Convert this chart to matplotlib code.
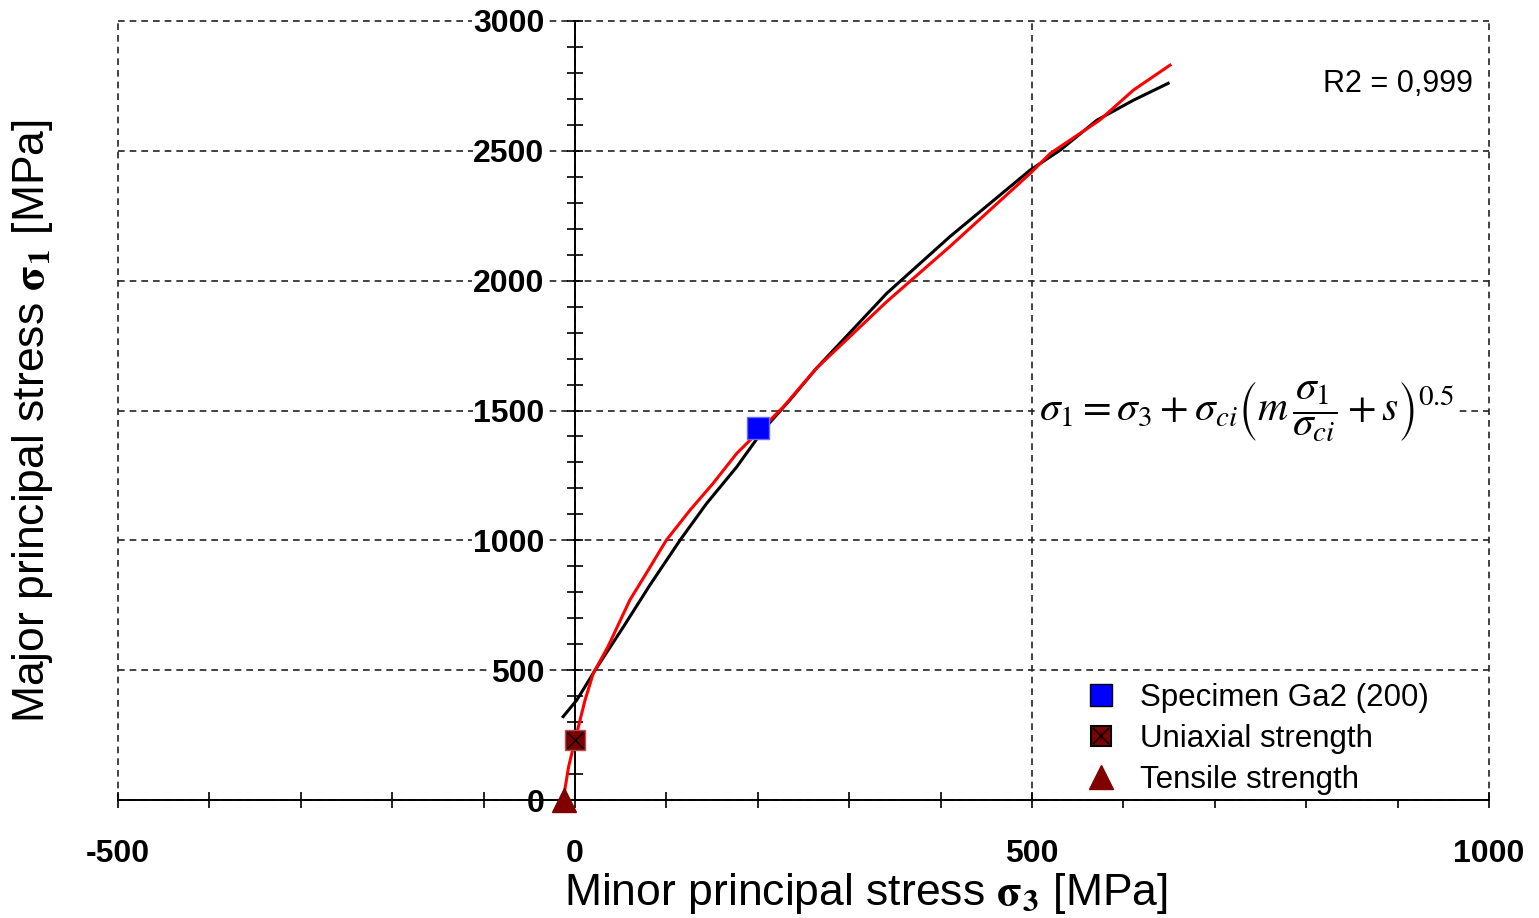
import matplotlib
matplotlib.use('Agg')
from matplotlib import pyplot as plt
from matplotlib.lines import Line2D

plt.rcParams['font.family'] = ['Liberation Sans', 'DejaVu Sans']
plt.rcParams['mathtext.fontset'] = 'stix'
plt.rcParams['axes.unicode_minus'] = False

# Hoek-Brown criterion (red)
sig3_hb = [-13, -7, 0, 11, 20, 36, 60, 78, 100, 126, 151, 177, 199, 228, 264, 341, 410, 498, 520, 574, 611, 651]
sig1_hb = [0, 128, 230, 385, 488, 590, 770, 873, 1001, 1117, 1219, 1335, 1412, 1514, 1662, 1919, 2131, 2413, 2490,
           2618, 2734, 2830]

# fitted curve (black)
sig3_fit = [-13, 2, 22, 53, 82, 115, 144, 177, 206, 235, 264, 341, 410, 498, 531, 571, 611, 649]
sig1_fit = [321, 385, 500, 667, 828, 1001, 1142, 1283, 1425, 1540, 1662, 1951, 2169, 2426, 2503, 2618, 2695, 2760]

# single points
specimen = (200, 1432)
uniaxial = (0, 230)
tensile = (-12, 0)

x_major = [-500, 0, 500, 1000]
y_major = [0, 500, 1000, 1500, 2000, 2500, 3000]

W, H = 1539, 918
fig = plt.figure(figsize=(W / 100, H / 100), dpi=100)
ax = fig.add_axes([118 / W, 1 - 800 / H, (1489 - 118) / W, (800 - 21) / H])
ax.set_xlim(-500, 1000)
ax.set_ylim(0, 3000)

ax.spines['left'].set_position(('data', 0))
ax.spines['top'].set_visible(False)
ax.spines['right'].set_visible(False)
for s in ('left', 'bottom'):
    ax.spines[s].set_linewidth(1.4)
    ax.spines[s].set_zorder(3)

ax.set_xticks(x_major)
ax.set_yticks(y_major)
ax.set_xticks(range(-500, 1001, 100), minor=True)
ax.set_yticks(range(0, 3001, 100), minor=True)
ax.tick_params(which='both', direction='inout', length=12, width=1.2, color='black')
ax.tick_params(axis='y', pad=16, labelsize=23)
ax.tick_params(axis='x', pad=22, labelsize=23)
for lbl in ax.get_xticklabels() + ax.get_yticklabels():
    lbl.set_fontweight('bold')
for lbl in ax.get_yticklabels():
    lbl.set_bbox(dict(facecolor='white', edgecolor='none', pad=0.5))

ax.grid(True, which='major', linestyle=(0, (4, 3)), color='#222222', linewidth=1.2)
for gl in ax.get_xgridlines() + ax.get_ygridlines():
    gl.set_clip_on(False)
ax.set_axisbelow(True)

ax.plot(sig3_fit, sig1_fit, color='black', lw=2.2, zorder=4)
ax.plot(sig3_hb, sig1_hb, color='red', lw=2.2, zorder=5)

ax.plot(*specimen, marker='s', ms=16, color='#0000ff', mec='#6a6aff', mew=1, ls='none', zorder=6)
ax.plot(*uniaxial, marker='s', ms=15, color='#7a0000', mec='#b05050', mew=1, ls='none', zorder=6)
ax.plot(*uniaxial, marker='x', ms=11, color='black', mew=1, ls='none', zorder=7)
ax.plot(*tensile, marker='^', ms=17, color='#800000', ls='none', zorder=6, clip_on=False)

leg_spec = Line2D([], [], marker='s', ms=16, color='#0000ff', mec='black', mew=1, ls='none')
leg_uni = Line2D([], [], marker='s', ms=15, color='#800000', mec='black', mew=1.5, ls='none')
leg_unix = Line2D([], [], marker='x', ms=11, color='black', mew=1.2, ls='none')
leg_ten = Line2D([], [], marker='^', ms=17, color='#800000', ls='none')
leg = ax.legend([leg_spec, (leg_uni, leg_unix), leg_ten],
                ['Specimen Ga2 (200)', 'Uniaxial strength', 'Tensile strength'],
                loc='upper left', bbox_to_anchor=((1076 - 118) / 1371, (800 - 678) / 779),
                fontsize=22.5, frameon=True, fancybox=False, edgecolor='none', facecolor='white', framealpha=1,
                borderaxespad=0, borderpad=0.15, labelspacing=0.35, handlelength=1.3, handletextpad=0.6)
leg.set_zorder(8)

ax.text(982, 2757, 'R2 = 0,999', ha='right', va='center', fontsize=22, zorder=9)
ax.text(508, 1495,
        r'$\sigma_1 = \sigma_3 + \sigma_{ci}\left(m\,\dfrac{\sigma_1}{\sigma_{ci}} + s\right)^{0.5}$',
        ha='left', va='center', fontsize=30, zorder=9,
        bbox=dict(facecolor='white', edgecolor='none', pad=1))

fig.text(866 / W, 1 - 893 / H, r'Minor principal stress $\mathbf{\sigma_3}$ [MPa]', ha='center', va='center',
         fontsize=32)
fig.text(33 / W, 1 - 421 / H, r'Major principal stress $\mathbf{\sigma_1}$ [MPa]', ha='center', va='center',
         fontsize=32, rotation=90)

fig.savefig('out.png', dpi=100)
